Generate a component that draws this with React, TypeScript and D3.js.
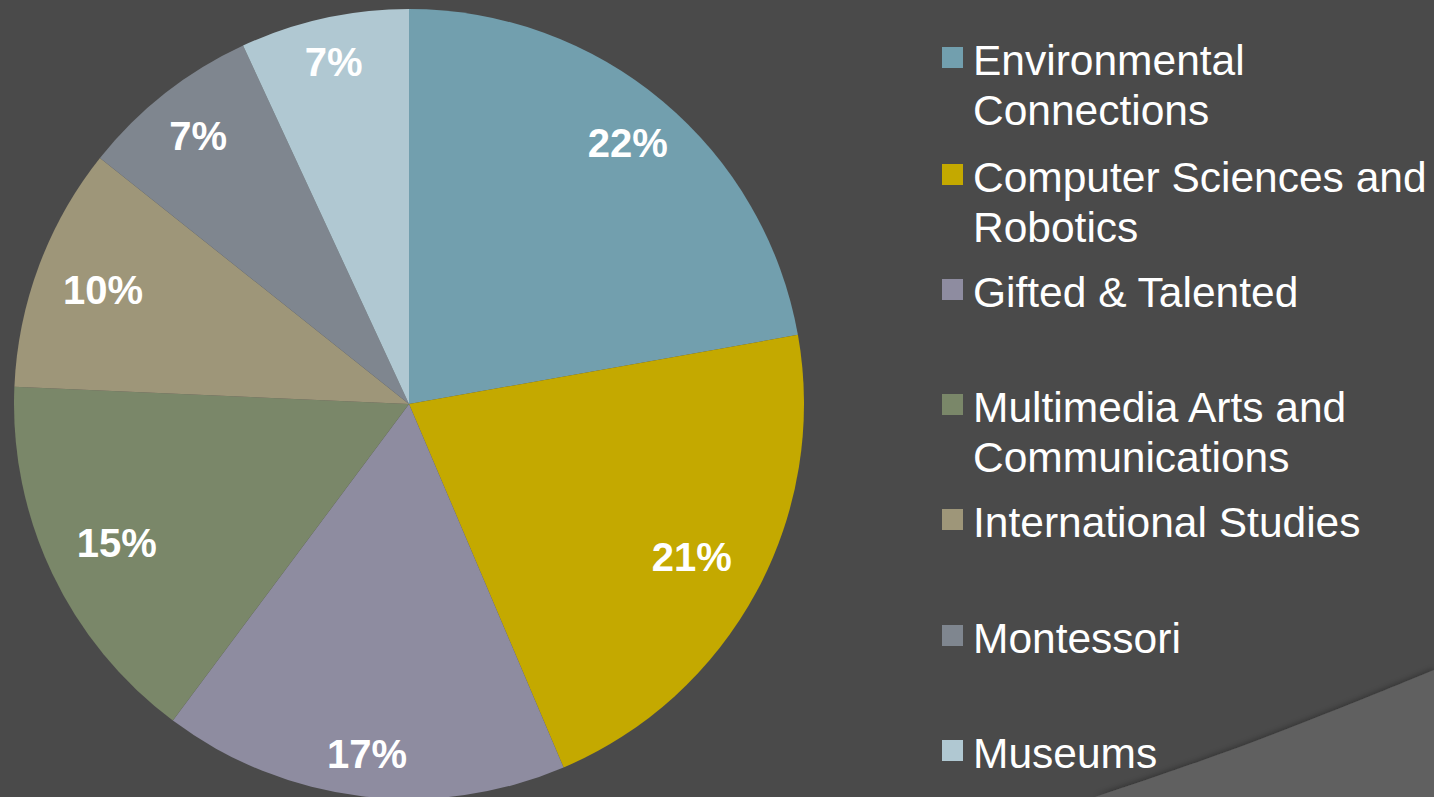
import React from "react";
import * as d3 from "d3";

const categories = [
  "Environmental Connections",
  "Computer Sciences and Robotics",
  "Gifted & Talented",
  "Multimedia Arts and Communications",
  "International Studies",
  "Montessori",
  "Museums",
];
const values = [22.2, 21.4, 16.6, 15.5, 10.0, 7.4, 6.9];
const labels = ["22%", "21%", "17%", "15%", "10%", "7%", "7%"];
const colors = ["#729fae", "#c4a900", "#8e8ca0", "#7a8769", "#9e9679", "#7f868f", "#b0c8d2"];
const legendLines = [
  ["Environmental", "Connections"],
  ["Computer Sciences and", "Robotics"],
  ["Gifted & Talented"],
  ["Multimedia Arts and", "Communications"],
  ["International Studies"],
  ["Montessori"],
  ["Museums"],
];

// layout (not data)
const labelRadiusFrac = [0.862, 0.814, 0.892, 0.819, 0.827, 0.864, 0.886];
const legendBaselines = [75, 192, 307, 422, 537, 653, 768];

const W = 1434;
const H = 797;
const cx = 409;
const cy = 404;
const R = 395;

export default function App() {
  const pie = d3.pie<number>().sort(null).value((d) => d);
  const arcs = pie(values);
  const arc = d3.arc<d3.PieArcDatum<number>>().innerRadius(0).outerRadius(R);
  const font = "'Liberation Sans', Arial, sans-serif";

  const swoosh = d3.line().curve(d3.curveBasis)([
    [1095, 797],
    [1250, 745],
    [1434, 670],
  ]);
  const swooshPath = `${swoosh} L1434,797 Z`;

  return (
    <svg
      width={W}
      height={H}
      style={{ position: "absolute", left: 0, top: 0, display: "block" }}
    >
      <defs>
        <filter id="sh" x="-10%" y="-10%" width="120%" height="120%">
          <feGaussianBlur in="SourceAlpha" stdDeviation="3" />
          <feOffset dx="0" dy="-1" result="b" />
          <feFlood floodColor="#000" floodOpacity="0.35" />
          <feComposite in2="b" operator="in" />
          <feMerge>
            <feMergeNode />
            <feMergeNode in="SourceGraphic" />
          </feMerge>
        </filter>
      </defs>
      <rect x={0} y={0} width={W} height={H} fill="#4a4a4a" />
      <path d={swooshPath} fill="#606060" filter="url(#sh)" />
      <g transform={`translate(${cx},${cy})`}>
        {arcs.map((a, i) => (
          <path key={i} d={arc(a) || ""} fill={colors[i]} />
        ))}
        {arcs.map((a, i) => {
          const r = R * labelRadiusFrac[i];
          const [x, y] = d3
            .arc<d3.PieArcDatum<number>>()
            .innerRadius(r)
            .outerRadius(r)
            .centroid(a);
          return (
            <text
              key={"l" + i}
              x={x}
              y={y}
              dy="0.35em"
              textAnchor="middle"
              fill="#ffffff"
              fontFamily={font}
              fontWeight="bold"
              fontSize={40}
            >
              {labels[i]}
            </text>
          );
        })}
      </g>
      <g>
        {categories.map((c, i) => (
          <g key={c}>
            <rect
              x={942}
              y={legendBaselines[i] - 28}
              width={21}
              height={21}
              fill={colors[i]}
            />
            {legendLines[i].map((ln, j) => (
              <text
                key={j}
                x={973}
                y={legendBaselines[i] + j * 50}
                fill="#ffffff"
                fontFamily={font}
                fontSize={42.5}
              >
                {ln}
              </text>
            ))}
          </g>
        ))}
      </g>
    </svg>
  );
}
